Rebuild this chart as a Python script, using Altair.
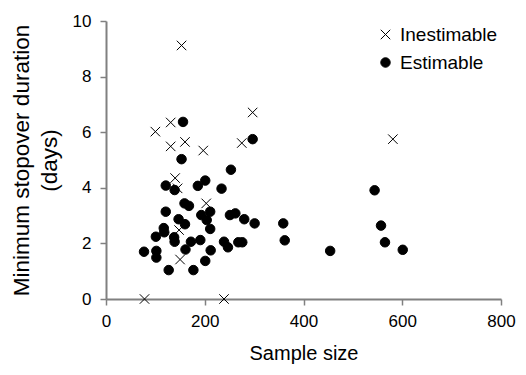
import altair as alt
import pandas as pd

# Inestimable (X markers)
inest_x = [153, 100, 131, 131, 160, 197, 297, 275, 581, 140, 145, 203, 148, 150, 78, 239]
inest_y = [9.12, 6.02, 6.35, 5.49, 5.65, 5.34, 6.71, 5.61, 5.75, 4.35, 3.98, 3.44, 2.48, 1.42, 0, 0]

# Estimable (filled dots)
est_x = [156, 153, 297, 253,
         121, 139, 186, 201, 234,
         159, 168, 121, 193, 211, 204, 211,
         147, 160, 251, 262, 280, 301, 359, 362,
         117, 118, 101, 138, 139, 172, 191, 161, 212, 239, 247, 268, 276,
         77, 102, 102, 127, 177, 201,
         544, 557, 565, 601, 454]
est_y = [6.37, 5.03, 5.75, 4.65,
         4.08, 3.92, 4.07, 4.26, 3.97,
         3.44, 3.35, 3.14, 3.02, 3.14, 2.84, 2.52,
         2.87, 2.69, 3.02, 3.08, 2.87, 2.72, 2.72, 2.11,
         2.55, 2.40, 2.24, 2.22, 2.06, 2.06, 2.12, 1.78, 1.75, 2.06, 1.86, 2.04, 2.04,
         1.70, 1.73, 1.49, 1.04, 1.04, 1.37,
         3.91, 2.64, 2.04, 1.77, 1.73]

categories = ["Inestimable", "Estimable"]
x_ticks = [0, 200, 400, 600, 800]
y_ticks = [0, 2, 4, 6, 8, 10]

df = pd.concat([
    pd.DataFrame({"n": inest_x, "d": inest_y, "type": categories[0]}),
    pd.DataFrame({"n": est_x, "d": est_y, "type": categories[1]}),
], ignore_index=True)

FONT = "Liberation Sans"
X_PATH = "M-1,-1L1,1M1,-1L-1,1"

legend = alt.Legend(title=None, orient="none", legendX=270, legendY=4,
                    symbolSize=90, symbolStrokeWidth=1, symbolOpacity=1,
                    labelFontSize=19, labelFont=FONT, labelColor="black",
                    rowPadding=8, padding=0, labelOffset=5)

chart = alt.Chart(df).mark_point(
    filled=True, strokeWidth=1, size=90, opacity=1
).encode(
    x=alt.X("n:Q", scale=alt.Scale(domain=[0, 800], nice=False),
            axis=alt.Axis(values=x_ticks, title="Sample size", grid=False, labelFlush=False,
                          tickSize=6, labelPadding=8, titlePadding=14)),
    y=alt.Y("d:Q", scale=alt.Scale(domain=[0, 10], nice=False),
            axis=alt.Axis(values=y_ticks, title=["Minimum stopover duration", "(days)"],
                          grid=False, tickSize=6, labelPadding=9, titlePadding=11)),
    shape=alt.Shape("type:N", scale=alt.Scale(domain=categories, range=[X_PATH, "circle"]),
                    legend=legend),
    color=alt.Color("type:N", scale=alt.Scale(domain=categories, range=["black", "black"]),
                    legend=legend),
    stroke=alt.Stroke("type:N", scale=alt.Scale(domain=categories, range=["black", "black"]),
                      legend=legend),
).properties(
    width=395, height=278,
    padding={"left": 2, "top": 4, "right": 2, "bottom": 2},
).configure_view(
    stroke=None
).configure_axis(
    domainColor="#808080", domainWidth=2, tickColor="#808080", tickWidth=1.5,
    labelFont=FONT, labelFontSize=17, labelColor="black",
    titleFont=FONT, titleFontSize=21, titleFontWeight="normal", titleColor="black",
).configure_axisY(
    titleFontSize=22.5, titleLineHeight=28
).configure_axisX(
    titleFontSize=20
)

chart.save("out.html", embed_options={"renderer": "svg", "actions": False})
